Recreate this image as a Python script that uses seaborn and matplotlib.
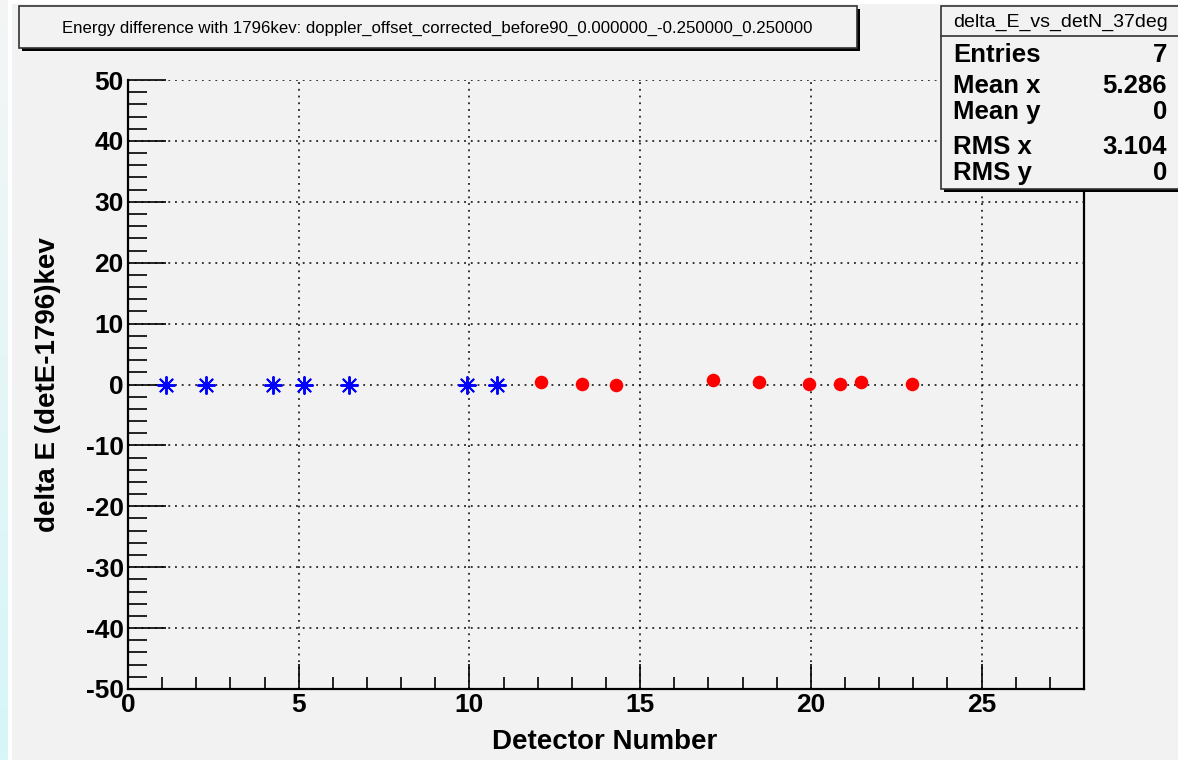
import numpy as np
import pandas as pd
import matplotlib
matplotlib.use("Agg")
import matplotlib.pyplot as plt
import seaborn as sns
from matplotlib.patches import Rectangle
from matplotlib.lines import Line2D

# ---------------- data ----------------
blue_det = [1.11, 2.28, 4.24, 5.15, 6.47, 9.92, 10.80]
blue_dE = [0.0, 0.0, 0.0, 0.0, 0.0, 0.0, 0.0]
red_det = [12.09, 13.29, 14.29, 17.13, 18.47, 19.96, 20.84, 21.46, 22.95]
red_dE = [0.49, 0.16, -0.16, 0.82, 0.49, 0.16, 0.16, 0.33, 0.16]

title_text = "Energy difference with 1796kev: doppler_offset_corrected_before90_0.000000_-0.250000_0.250000"
stats_name = "delta_E_vs_detN_37deg"
stats_labels = ["Entries", "Mean x", "Mean y", "RMS x", "RMS y"]
stats_values = ["7", "5.286", "0", "3.104", "0"]
x_label = "Detector Number"
y_label = "delta E (detE-1796)kev"

df_blue = pd.DataFrame({"det": blue_det, "dE": blue_dE})
df_red = pd.DataFrame({"det": red_det, "dE": red_dE})

# ---------------- figure ----------------
sns.set_theme(style="white")
plt.rcParams["font.family"] = ["Liberation Sans", "DejaVu Sans"]
plt.rcParams["axes.unicode_minus"] = False
plt.rcParams["text.color"] = "black"
plt.rcParams["xtick.color"] = "black"
plt.rcParams["ytick.color"] = "black"
plt.rcParams["xtick.labelcolor"] = "black"
plt.rcParams["ytick.labelcolor"] = "black"

W, H = 1178, 760
fig = plt.figure(figsize=(W / 100, H / 100), dpi=100)
bg = "#f2f2f2"
fig.patch.set_facecolor(bg)

def fx(px):
    return px / W

def fy(py):
    return 1 - py / H

# left gradient strip / white margins
grad_ax = fig.add_axes([0, 0, fx(8), 1])
grad = np.linspace(0, 1, 256).reshape(-1, 1)
cmap = matplotlib.colors.LinearSegmentedColormap.from_list("edge", ["#d6f6f8", "#f4f5f5"])
grad_ax.imshow(grad, aspect="auto", cmap=cmap, origin="lower")
grad_ax.set_axis_off()
fig.patches.append(Rectangle((fx(8), 0), fx(4), 1, transform=fig.transFigure,
                             facecolor="white", edgecolor="none", zorder=0))
fig.patches.append(Rectangle((fx(8), fy(4)), 1, fy(0) - fy(4), transform=fig.transFigure,
                             facecolor="white", edgecolor="none", zorder=0))

# main axes
L, R, T, B = 128, 1084, 80, 689
ax = fig.add_axes([fx(L), fy(B), fx(R - L), fy(T) - fy(B)])
ax.set_facecolor(bg)

sns.scatterplot(data=df_blue, x="det", y="dE", ax=ax, marker=(8, 2, 0), s=150,
                color="#0000ff", linewidth=1.4, edgecolor="#0000ff", zorder=5, legend=False)
sns.scatterplot(data=df_red, x="det", y="dE", ax=ax, marker="o", s=95,
                color="#ff0000", linewidth=0, zorder=5, legend=False)

ax.set_xlim(0, 28)
ax.set_ylim(-50, 50)
ax.set_xticks(np.arange(0, 26, 5))
ax.set_xticks(np.arange(0, 28, 1), minor=True)
ax.set_yticks(np.arange(-50, 51, 10))
ax.set_yticks(np.arange(-50, 51, 2), minor=True)
ax.grid(True, which="major", color="black", linestyle=(0, (1.2, 3.2)), linewidth=1.1)
ax.set_axisbelow(True)

ax.tick_params(axis="both", which="major", direction="in", color="black", width=1.2,
               labelsize=19, pad=3, labelcolor="black")
ax.tick_params(axis="x", which="major", length=18)
ax.tick_params(axis="y", which="major", length=27)
ax.tick_params(axis="x", which="minor", direction="in", length=9, width=1.2, color="black")
ax.tick_params(axis="y", which="minor", direction="in", length=14, width=1.2, color="black")
ax.tick_params(bottom=True, left=True, top=False, right=False, which="both")
for lab in ax.get_xticklabels() + ax.get_yticklabels():
    lab.set_fontweight("bold")

for side in ["left", "bottom", "right"]:
    ax.spines[side].set_visible(True)
    ax.spines[side].set_color("black")
    ax.spines[side].set_linewidth(1.6)
ax.spines["top"].set_visible(False)

ax.set_xlabel("")
ax.set_ylabel("")
fig.text(fx(605), fy(742), x_label, ha="center", va="center", fontsize=20,
         fontweight="bold", color="black")
fig.text(fx(48), fy(385), y_label, ha="center", va="center", rotation=90,
         fontsize=20, fontweight="bold", color="black")

# title box
tx0, ty0, tx1, ty1 = 19, 6, 857, 48
fig.patches.append(Rectangle((fx(tx0 + 3), fy(ty1 + 3)), fx(tx1 - tx0), fy(ty0) - fy(ty1),
                             transform=fig.transFigure, facecolor="black", edgecolor="none", zorder=3))
fig.patches.append(Rectangle((fx(tx0), fy(ty1)), fx(tx1 - tx0), fy(ty0) - fy(ty1),
                             transform=fig.transFigure, facecolor=bg, edgecolor="#333333",
                             linewidth=1.2, zorder=4))
fig.text(fx(437), fy(28), title_text, ha="center", va="center", fontsize=12.1,
         color="black", zorder=6)

# stats box
sx0, sy0, sx1, sy1 = 941, 6, 1185, 189
fig.patches.append(Rectangle((fx(sx0 + 3), fy(sy1 + 3)), fx(sx1 - sx0), fy(sy0) - fy(sy1),
                             transform=fig.transFigure, facecolor="black", edgecolor="none", zorder=7))
fig.patches.append(Rectangle((fx(sx0), fy(sy1)), fx(sx1 - sx0), fy(sy0) - fy(sy1),
                             transform=fig.transFigure, facecolor=bg, edgecolor="#333333",
                             linewidth=1.2, zorder=8))
fig.lines.append(Line2D([fx(sx0), fx(W)], [fy(36), fy(36)], transform=fig.transFigure,
                        color="#333333", linewidth=1.2, zorder=9))
fig.text(fx(1060), fy(22), stats_name, ha="center", va="center", fontsize=14,
         color="black", zorder=10)
row_y = [55, 86, 112, 147, 173]
for lab, val, yy in zip(stats_labels, stats_values, row_y):
    fig.text(fx(953), fy(yy), lab, ha="left", va="center", fontsize=18.5,
             fontweight="bold", color="black", zorder=10)
    fig.text(fx(1167), fy(yy), val, ha="right", va="center", fontsize=18.5,
             fontweight="bold", color="black", zorder=10)

fig.savefig("out.png", dpi=100, facecolor=fig.get_facecolor())
